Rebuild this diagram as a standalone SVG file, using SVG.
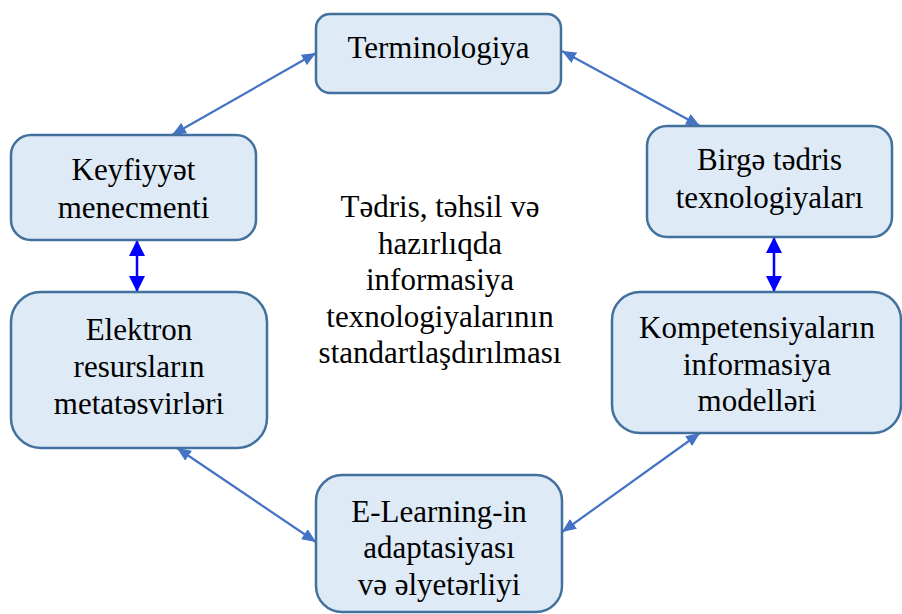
<svg xmlns="http://www.w3.org/2000/svg" width="902" height="614" viewBox="0 0 902 614">
<style>
.box{fill:#DEEAF6;stroke:#41719C;stroke-width:2.5}
.t{font-family:"Liberation Serif","Times New Roman",serif;font-size:31px;fill:#000;text-anchor:middle}
.c1{stroke:#4472C4;stroke-width:2.2;fill:none}
.c2{stroke:#0000FF;stroke-width:2.5;fill:none}
</style>
<defs>
<marker id="a" viewBox="0 0 14 12" refX="14" refY="6" markerWidth="14" markerHeight="12" markerUnits="userSpaceOnUse" orient="auto-start-reverse">
<path d="M0,0 L14,6 L0,12 z" fill="#4472C4"/>
</marker>
<marker id="b" viewBox="0 0 16 16" refX="16" refY="8" markerWidth="16" markerHeight="16" markerUnits="userSpaceOnUse" orient="auto-start-reverse">
<path d="M0,0 L16,8 L0,16 z" fill="#0000FF"/>
</marker>
</defs>
<rect width="902" height="614" fill="#fff"/>
<g id="connectors">
<line class="c1" x1="172" y1="135" x2="316" y2="53" marker-start="url(#a)" marker-end="url(#a)"/>
<line class="c1" x1="562" y1="51" x2="700" y2="126" marker-start="url(#a)" marker-end="url(#a)"/>
<line class="c2" x1="137" y1="240" x2="137" y2="292" marker-start="url(#b)" marker-end="url(#b)"/>
<line class="c2" x1="774" y1="237" x2="774" y2="292" marker-start="url(#b)" marker-end="url(#b)"/>
<line class="c1" x1="177" y1="448" x2="316" y2="542" marker-start="url(#a)" marker-end="url(#a)"/>
<line class="c1" x1="562" y1="532" x2="700" y2="433" marker-start="url(#a)" marker-end="url(#a)"/>
</g>
<g id="terminologiya">
<rect class="box" x="316" y="14" width="245" height="79" rx="14"/>
<text class="t" x="438.5" y="58">Terminologiya</text>
</g>
<g id="keyfiyyet">
<rect class="box" x="11" y="135" width="245" height="105" rx="20"/>
<text class="t" x="133.5" y="180">Keyfiyyət</text>
<text class="t" x="133.5" y="218">menecmenti</text>
</g>
<g id="birge">
<rect class="box" x="647" y="126" width="245" height="111" rx="20"/>
<text class="t" x="769.5" y="170">Birgə tədris</text>
<text class="t" x="769.5" y="208">texnologiyaları</text>
</g>
<g id="elektron">
<rect class="box" x="11" y="292" width="256" height="156" rx="30"/>
<text class="t" x="139" y="340">Elektron</text>
<text class="t" x="139" y="377">resursların</text>
<text class="t" x="139" y="414">metatəsvirləri</text>
</g>
<g id="kompetensiya">
<rect class="box" x="612" y="292" width="289" height="141" rx="28"/>
<text class="t" x="757" y="338">Kompetensiyaların</text>
<text class="t" x="757" y="375">informasiya</text>
<text class="t" x="757" y="411">modelləri</text>
</g>
<g id="elearning">
<rect class="box" x="316" y="475" width="246" height="137" rx="26"/>
<text class="t" x="439" y="522">E-Learning-in</text>
<text class="t" x="439" y="558">adaptasiyası</text>
<text class="t" x="439" y="595">və əlyetərliyi</text>
</g>
<g id="center">
<text class="t" x="440" y="217">Tədris, təhsil və</text>
<text class="t" x="440" y="254">hazırlıqda</text>
<text class="t" x="440" y="290">informasiya</text>
<text class="t" x="440" y="327">texnologiyalarının</text>
<text class="t" x="440" y="363">standartlaşdırılması</text>
</g>
</svg>
